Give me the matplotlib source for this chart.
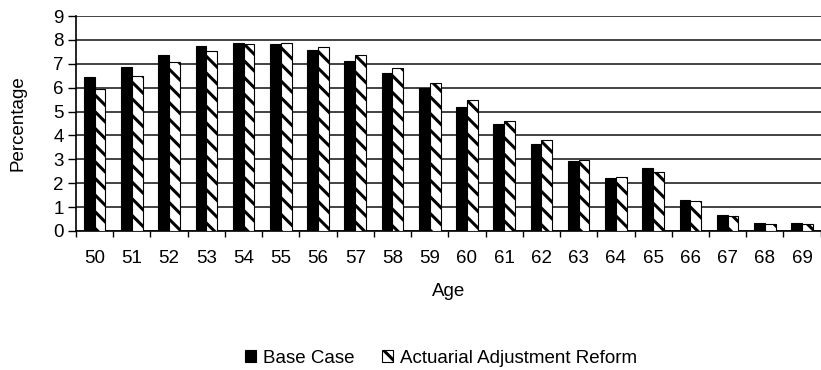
import numpy as np
import matplotlib.pyplot as plt

plt.rcParams['font.family'] = ['Liberation Sans', 'DejaVu Sans']
plt.rcParams['hatch.linewidth'] = 2.2

ages = [str(a) for a in range(50, 70)]
base_case = [6.45, 6.85, 7.37, 7.76, 7.87, 7.81, 7.59, 7.13, 6.63, 5.99,
             5.19, 4.46, 3.65, 2.91, 2.23, 2.62, 1.31, 0.68, 0.33, 0.33]
reform = [5.96, 6.49, 7.08, 7.53, 7.83, 7.85, 7.69, 7.35, 6.84, 6.21,
          5.47, 4.61, 3.83, 2.98, 2.27, 2.45, 1.24, 0.61, 0.28, 0.28]

fs = 13.5
fig = plt.figure(figsize=(8.21, 3.70), dpi=100)
ax = fig.add_axes([0.0926, 0.3757, 0.907, 0.581])

x = np.arange(len(ages))
w = 0.29
ax.bar(x - w/2, base_case, w, color='black', edgecolor='black', linewidth=0.8,
       label='Base Case', zorder=3)
ax.bar(x + w/2, reform, w, color='white', edgecolor='black', linewidth=0.8,
       hatch='\\\\', label='Actuarial Adjustment Reform', zorder=3)

ax.set_xlim(-0.5, len(ages) - 0.5)
ax.set_ylim(0, 9)
ax.set_yticks(range(10))
ax.yaxis.grid(True, color='#222222', linewidth=1.2, zorder=0)

ax.set_xticks(np.arange(len(ages) + 1) - 0.5)
ax.set_xticklabels([])
ax.set_xticks(x, minor=True)
ax.set_xticklabels(ages, minor=True)
ax.tick_params(axis='x', which='major', direction='out', length=4, width=1)
ax.tick_params(axis='x', which='minor', length=0, pad=14, labelsize=fs)
ax.tick_params(axis='y', direction='out', length=6, width=1, labelsize=fs, pad=3)

for s in ['top', 'right']:
    ax.spines[s].set_visible(False)
ax.spines['left'].set_linewidth(1.2)
ax.spines['bottom'].set_linewidth(1.2)

ax.set_xlabel('Age', fontsize=fs, labelpad=11)
ax.set_ylabel('Percentage', fontsize=fs, labelpad=19)

fig.legend(loc='center', bbox_to_anchor=(0.537, 0.032), ncol=2, frameon=False,
           fontsize=fs, handlelength=0.6, handleheight=0.6, handletextpad=0.35,
           columnspacing=1.5, borderpad=0)

plt.savefig('out.png', dpi=100)
